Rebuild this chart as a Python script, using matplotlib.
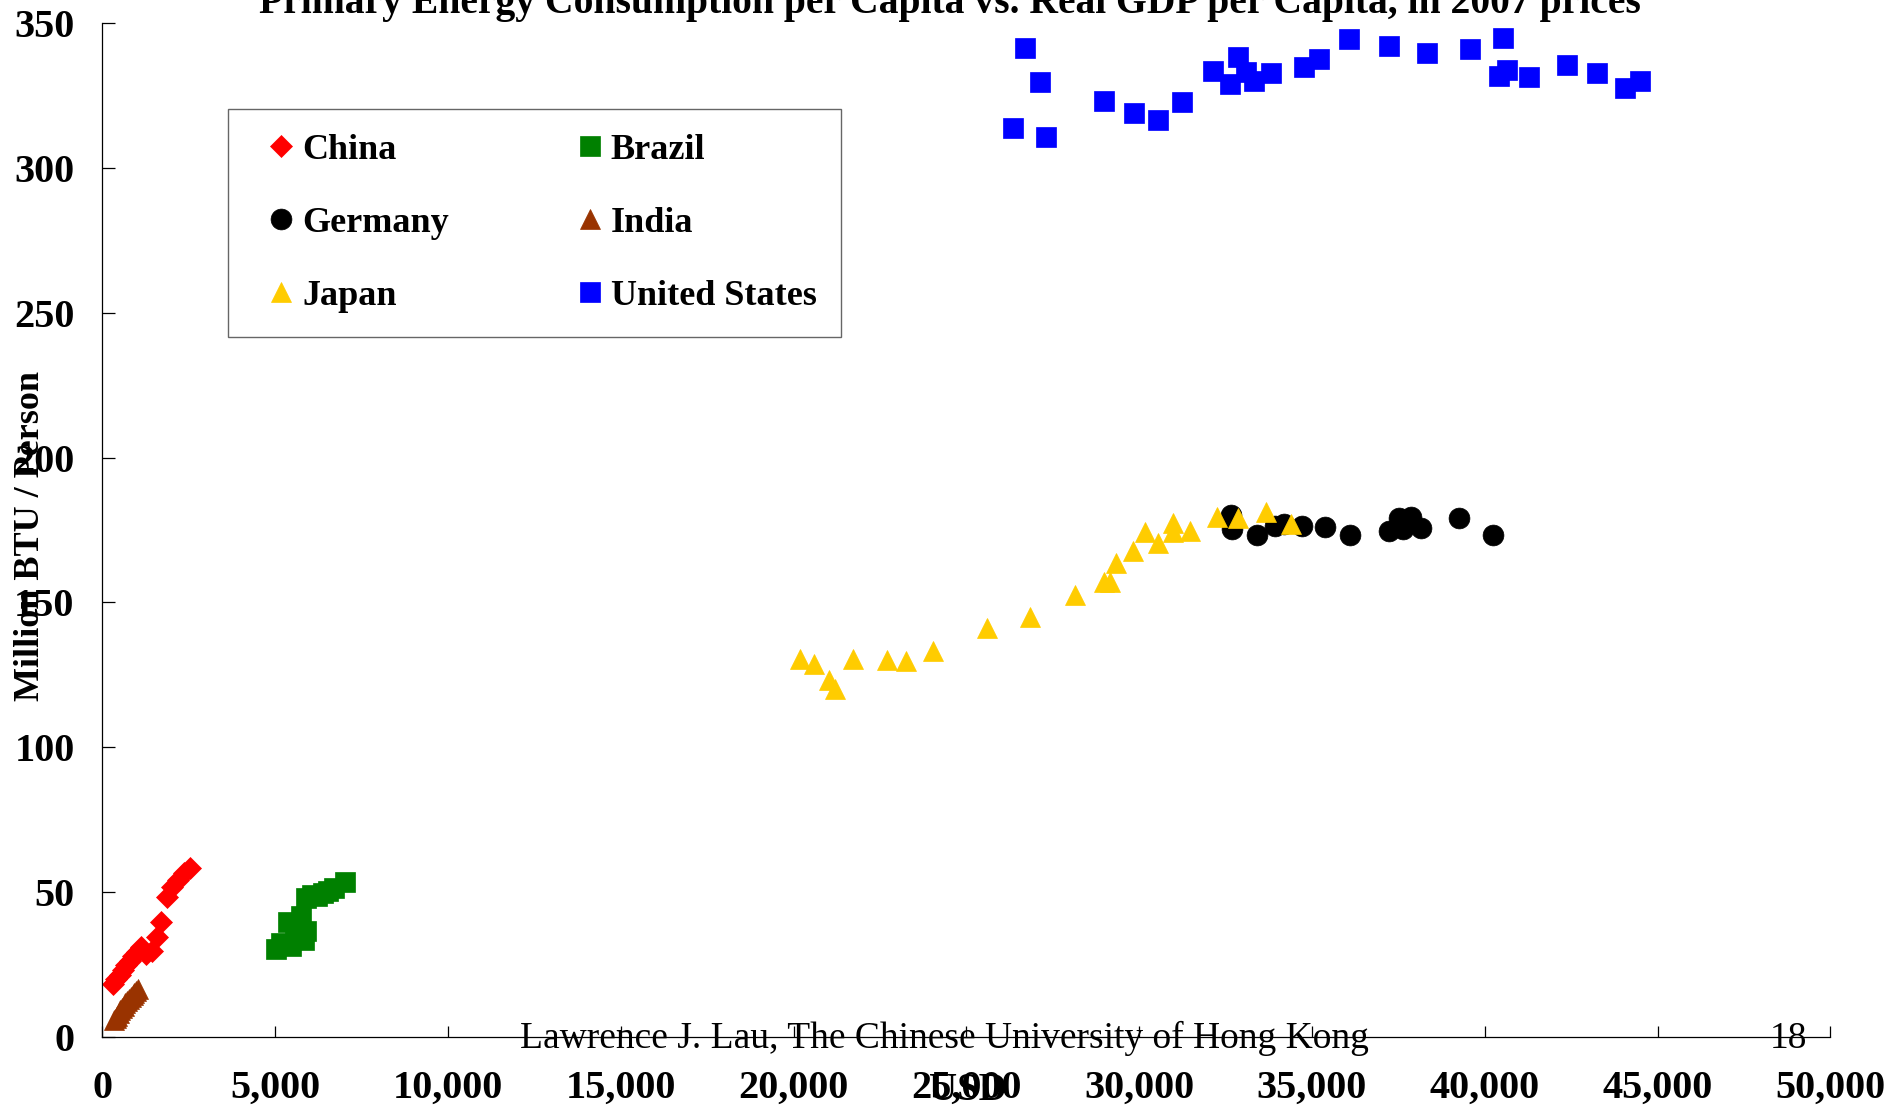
import numpy as np
import matplotlib.pyplot as plt
from matplotlib.ticker import FuncFormatter

# real GDP per capita (USD, 2007 prices) vs primary energy per capita (million BTU)
china_gdp = [299, 405, 501, 598, 694, 790, 887, 1003, 1118, 1272, 1436, 1580, 1705, 1870, 2014, 2176, 2350, 2543]
china_energy = [18.1, 19.8, 21.3, 23.0, 24.7, 26.3, 27.9, 29.4, 30.9, 28.6, 29.7, 34.5, 39.5, 48.3, 51.8, 54.1, 56.4, 58.4]

brazil_gdp = [5038, 5173, 5453, 5838, 5896, 5578, 5385, 5751, 5887, 6060, 6204, 6396, 6523, 6705, 7023]
brazil_energy = [30.3, 32.5, 31.4, 33.4, 36.6, 35.7, 39.5, 41.5, 48.0, 48.9, 48.6, 49.5, 50.4, 51.4, 53.5]

germany_gdp = [32660, 32700, 33400, 33920, 34180, 34720, 35390, 36090, 37230, 37530, 37640, 37870, 38150, 39250, 40250]
germany_energy = [180.1, 175.2, 173.4, 176.5, 177.1, 176.2, 176.0, 173.1, 174.8, 179.0, 175.4, 179.6, 175.6, 179.0, 173.1]

india_gdp = [347, 385, 424, 472, 520, 568, 617, 665, 713, 771, 829, 877, 925, 973, 1021]
india_energy = [5.7, 6.5, 7.3, 8.2, 9.1, 9.9, 10.7, 11.5, 12.3, 13.0, 13.8, 14.5, 15.2, 15.9, 16.6]

japan_gdp = [20175, 20590, 21020, 21200, 21720, 22700, 23260, 24040, 25590, 26850, 28150, 28980,
             29150, 29330, 29810, 30160, 30560, 30990, 30990, 31460, 32250, 32850, 33660, 34380]
japan_energy = [130.5, 128.8, 123.3, 120.0, 130.5, 130.2, 129.7, 133.3, 141.2, 145.0, 152.4, 157.1,
                156.9, 163.7, 167.7, 174.2, 170.5, 177.5, 174.4, 174.5, 179.5, 179.2, 181.1, 177.0]

us_gdp = [26360, 26710, 27130, 27300, 28990, 29860, 30550, 31230, 32140, 32630, 32870, 33090, 33330, 33810,
          34760, 35210, 36080, 37240, 38330, 39560, 40540, 40420, 40650, 41270, 42370, 43240, 44050, 44490]
us_energy = [313.9, 341.5, 329.8, 310.6, 323.0, 318.9, 316.5, 322.8, 333.6, 329.0, 338.2, 333.3, 330.1, 332.7,
             334.8, 337.8, 344.5, 342.3, 339.6, 341.2, 344.9, 331.8, 333.9, 331.6, 335.7, 332.9, 327.7, 329.9]

x_ticks = list(range(0, 50001, 5000))
y_ticks = list(range(0, 351, 50))

plt.rcParams['font.family'] = ['Liberation Serif', 'DejaVu Serif']

fig = plt.figure(figsize=(18.85, 11.06), dpi=100)
ax = fig.add_axes([0.0543, 0.0627, 0.9167, 0.9163])

series = [
    ("China", china_gdp, china_energy, 'D', 11, '#FF0000'),
    ("Brazil", brazil_gdp, brazil_energy, 's', 15, '#008000'),
    ("Germany", germany_gdp, germany_energy, 'o', 15, '#000000'),
    ("India", india_gdp, india_energy, '^', 15, '#993300'),
    ("Japan", japan_gdp, japan_energy, '^', 15, '#FFCC00'),
    ("United States", us_gdp, us_energy, 's', 15, '#0000FF'),
]
handles = {}
for name, xs, ys, mk, ms, col in series:
    line, = ax.plot(xs, ys, linestyle='none', marker=mk, markersize=ms,
                    color=col, markeredgecolor=col, markeredgewidth=0.5, label=name)
    handles[name] = line

ax.set_xlim(0, 50000)
ax.set_ylim(0, 350)
ax.set_xticks(x_ticks)
ax.set_yticks(y_ticks)
ax.xaxis.set_major_formatter(FuncFormatter(lambda v, p: f"{int(v):,}"))
ax.tick_params(axis='x', direction='in', length=8, width=0.9, pad=24, labelsize=29)
ax.tick_params(axis='y', direction='in', length=9, width=0.9, pad=20, labelsize=29)
for lab in ax.get_xticklabels() + ax.get_yticklabels():
    lab.set_fontweight('bold')
ax.spines['top'].set_visible(False)
ax.spines['right'].set_visible(False)
ax.spines['left'].set_linewidth(0.9)
ax.spines['bottom'].set_linewidth(0.9)

ax.set_ylabel("Million BTU / Person", fontsize=26, fontweight='bold')
ax.yaxis.set_label_coords(-0.032, 0.494)
ax.set_xlabel("USD", fontsize=28, fontweight='bold')
ax.xaxis.set_label_coords(0.501, -0.035)

order = ["China", "Germany", "Japan", "Brazil", "India", "United States"]
leg = ax.legend([handles[n] for n in order], order, ncol=2, loc='upper left',
                bbox_to_anchor=(228 / 1885, 1 - 109 / 1106), bbox_transform=fig.transFigure,
                prop={'size': 26, 'weight': 'bold'}, frameon=True, fancybox=False,
                borderpad=0.68, labelspacing=1.1, handlelength=1.56, handletextpad=-0.19,
                columnspacing=3.12, borderaxespad=0, numpoints=1)
leg.get_frame().set_edgecolor('#404040')
leg.get_frame().set_linewidth(1.0)

fig.text(0.504, 1 - 13.5 / 1106, "Primary Energy Consumption per Capita vs. Real GDP per Capita, in 2007 prices",
         ha='center', va='baseline', fontsize=28.5, fontweight='bold')
fig.text(0.501, 1 - 1048 / 1106, "Lawrence J. Lau, The Chinese University of Hong Kong",
         ha='center', va='baseline', fontsize=27)
fig.text(0.949, 1 - 1048 / 1106, "18", ha='center', va='baseline', fontsize=27)

fig.savefig("out.png", dpi=100)
